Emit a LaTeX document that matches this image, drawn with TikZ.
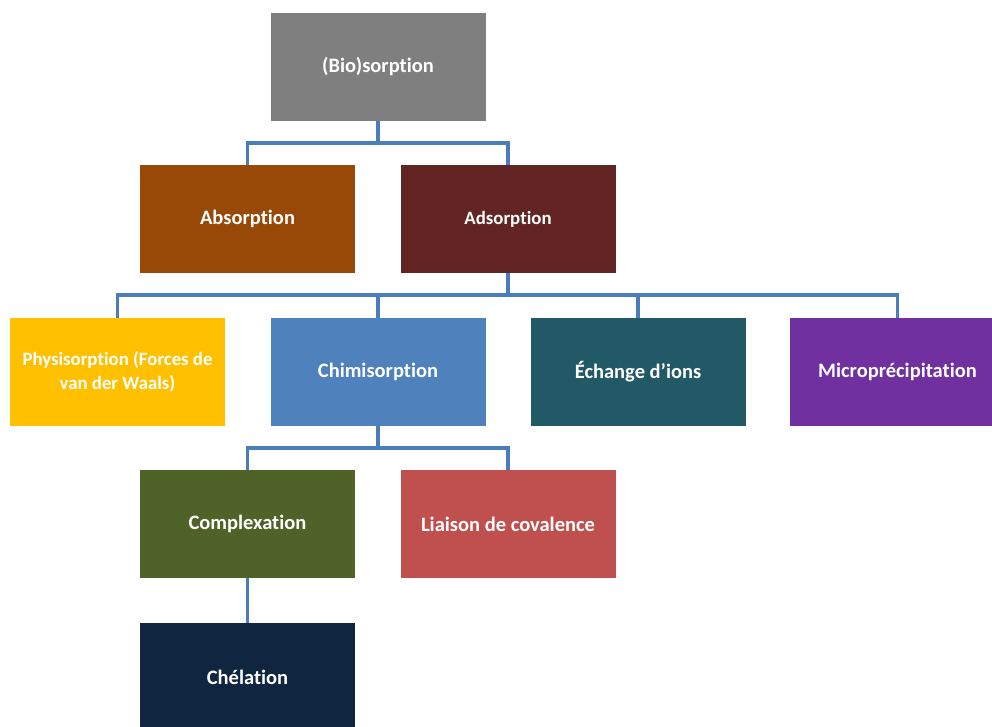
\documentclass[tikz,border=0pt]{standalone}
\usepackage{fontspec}
\setmainfont[Ligatures={NoCommon,NoContextual}, Contextuals=NoAlternate]{Carlito}
\newcommand\tI{t\kern0pt i}
\definecolor{cgray}{HTML}{7F7F7F}
\definecolor{cabs}{HTML}{984807}
\definecolor{cads}{HTML}{632523}
\definecolor{cphy}{HTML}{FFC000}
\definecolor{cchi}{HTML}{4F81BD}
\definecolor{cech}{HTML}{215967}
\definecolor{cmic}{HTML}{7030A0}
\definecolor{ccom}{HTML}{4F6228}
\definecolor{clia}{HTML}{C0504D}
\definecolor{cche}{HTML}{10253F}
\definecolor{clink}{HTML}{4A7EBB}
\begin{document}
\begin{tikzpicture}[x=1pt,y=-1pt,
  box/.style={draw=none, minimum width=215pt, minimum height=108pt, inner sep=4pt,
    text=white, align=center, font=\fontsize{20.5}{24.5}\selectfont\bfseries},
  smallbox/.style={box, font=\fontsize{18.8}{23.5}\selectfont\bfseries},
  link/.style={draw=clink, line width=3.5pt}]
\useasboundingbox (0,0) rectangle (992,727);
\clip (0,0) rectangle (992,727);
\node[box, fill=cgray] (bio) at (378,67) {(Bio)sorp\tI on};
\node[box, fill=cabs] (abs) at (247.5,219) {Absorp\tI on};
\node[smallbox, fill=cads] (ads) at (508,219) {Adsorp\tI on};
\node[smallbox, fill=cphy] (phy) at (117.5,372) {Physisorp\tI on (Forces de\\van der Waals)};
\node[box, fill=cchi] (chi) at (378,372) {Chimisorp\tI on};
\node[box, fill=cech] (ech) at (638,372) {Échange d’ions};
\node[box, fill=cmic] (mic) at (897.5,372) {Microprécipita\tI on};
\node[box, fill=ccom] (com) at (247.5,524) {Complexa\tI on};
\node[box, fill=clia] (lia) at (508,524) {Liaison de covalence};
\node[box, fill=cche] (che) at (247.5,677) {Chéla\tI on};
\draw[link] (bio.south) -- ++(0,22) -| (abs.north);
\draw[link] (bio.south) -- ++(0,22) -| (ads.north);
\draw[link] (ads.south) -- ++(0,22) -| (phy.north);
\draw[link] (ads.south) -- ++(0,22) -| (chi.north);
\draw[link] (ads.south) -- ++(0,22) -| (ech.north);
\draw[link] (ads.south) -- ++(0,22) -| (mic.north);
\draw[link] (chi.south) -- ++(0,22) -| (com.north);
\draw[link] (chi.south) -- ++(0,22) -| (lia.north);
\draw[link] (com.south) -- (che.north);
\end{tikzpicture}
\end{document}
